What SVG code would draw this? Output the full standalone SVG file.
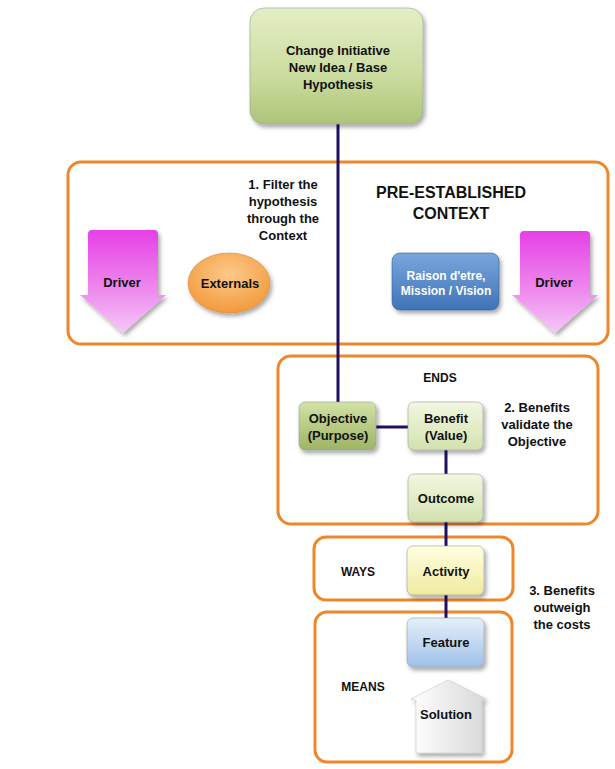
<svg xmlns="http://www.w3.org/2000/svg" width="615" height="769" viewBox="0 0 615 769">
<defs>
<linearGradient id="gGreen" x1="0" y1="0" x2="0" y2="1"><stop offset="0" stop-color="#e4eec6"/><stop offset="0.6" stop-color="#cadb9e"/><stop offset="1" stop-color="#adc478"/></linearGradient>
<linearGradient id="gGreenDark" x1="0" y1="0" x2="0" y2="1"><stop offset="0" stop-color="#d2e2a6"/><stop offset="1" stop-color="#9db565"/></linearGradient>
<linearGradient id="gGreenLight" x1="0" y1="0" x2="0" y2="1"><stop offset="0" stop-color="#f2f7e2"/><stop offset="1" stop-color="#d3e2ae"/></linearGradient>
<linearGradient id="gYellow" x1="0" y1="0" x2="0" y2="1"><stop offset="0" stop-color="#ffffe0"/><stop offset="1" stop-color="#f0eaa0"/></linearGradient>
<linearGradient id="gBlueLight" x1="0" y1="0" x2="0" y2="1"><stop offset="0" stop-color="#e6f0fb"/><stop offset="1" stop-color="#9ec0e8"/></linearGradient>
<linearGradient id="gBlue" x1="0" y1="0" x2="0" y2="1"><stop offset="0" stop-color="#79a7dd"/><stop offset="1" stop-color="#3f73b8"/></linearGradient>
<radialGradient id="gOrange" cx="0.5" cy="0.35" r="0.65"><stop offset="0" stop-color="#fcc98a"/><stop offset="1" stop-color="#f29a3c"/></radialGradient>
<linearGradient id="gPink" x1="0" y1="0" x2="0" y2="1"><stop offset="0" stop-color="#e640e6"/><stop offset="0.6" stop-color="#ee8cee"/><stop offset="1" stop-color="#f6c8f6"/></linearGradient>
<linearGradient id="gWhite" x1="0" y1="0" x2="1" y2="0"><stop offset="0" stop-color="#ffffff"/><stop offset="1" stop-color="#d8d8d8"/></linearGradient>
<filter id="sh" x="-20%" y="-20%" width="150%" height="150%"><feDropShadow dx="2" dy="3" stdDeviation="2" flood-color="#000" flood-opacity="0.35"/></filter>
</defs>
<style>
.frame{fill:#fff;stroke:#f0862a;stroke-width:3}
.con{stroke:#20105e;stroke-width:3;fill:none}
.t{font-family:"Liberation Sans",Arial,sans-serif;font-weight:bold;font-size:13px;fill:#111;text-anchor:middle}
.node{stroke:#9aa0a0;stroke-width:0.6}
</style>
<rect width="615" height="769" fill="#fff"/>

<g id="frames">
<rect class="frame" x="68" y="162" width="540" height="182" rx="13"/>
<rect class="frame" x="278" y="356" width="320" height="168" rx="13"/>
<rect class="frame" x="314" y="537" width="199" height="63" rx="12"/>
<rect class="frame" x="315" y="612" width="197" height="150" rx="12"/>
</g>

<g id="connectors">
<line class="con" x1="338" y1="124" x2="338" y2="402"/>
<line class="con" x1="376" y1="427" x2="408" y2="427"/>
<line class="con" x1="446" y1="450" x2="446" y2="474"/>
<line class="con" x1="446" y1="522" x2="446" y2="546"/>
<line class="con" x1="446" y1="595" x2="446" y2="618"/>
</g>

<g id="change-initiative">
<rect x="250" y="8" width="173" height="116" rx="14" fill="url(#gGreen)" class="node" filter="url(#sh)"/>
<text class="t" x="338" y="55">Change Initiative</text>
<text class="t" x="338" y="72">New Idea / Base</text>
<text class="t" x="338" y="89">Hypothesis</text>
</g>

<g id="filter-label">
<text class="t" x="283" y="189">1. Filter the</text>
<text class="t" x="283" y="206">hypothesis</text>
<text class="t" x="283" y="223">through the</text>
<text class="t" x="283" y="240">Context</text>
</g>

<g id="context-title">
<text class="t" x="451" y="198" style="font-size:16px">PRE-ESTABLISHED</text>
<text class="t" x="451" y="219" style="font-size:16px">CONTEXT</text>
</g>

<g id="driver-left">
<path d="M88,234 Q88,230 92,230 L154,230 Q158,230 158,234 L158,295 L166,295 L123,333 L80,295 L88,295 Z" fill="url(#gPink)" filter="url(#sh)"/>
<text class="t" x="122" y="287">Driver</text>
</g>

<g id="externals">
<ellipse cx="229" cy="283" rx="41" ry="30" fill="url(#gOrange)" stroke="#d88a3a" stroke-width="0.6" filter="url(#sh)"/>
<text class="t" x="230" y="288">Externals</text>
</g>

<g id="raison">
<rect x="392" y="253" width="107" height="57" rx="8" fill="url(#gBlue)" stroke="#30609e" stroke-width="0.6" filter="url(#sh)"/>
<text class="t" x="446" y="280" style="fill:#fff;font-size:12px">Raison d'etre,</text>
<text class="t" x="446" y="295" style="fill:#fff;font-size:12px">Mission / Vision</text>
</g>

<g id="driver-right">
<path d="M520,235 Q520,231 524,231 L586,231 Q590,231 590,235 L590,295 L598,295 L555,333 L512,295 L520,295 Z" fill="url(#gPink)" filter="url(#sh)"/>
<text class="t" x="554" y="287">Driver</text>
</g>

<g id="ends-label"><text class="t" x="440" y="382" style="font-size:12px">ENDS</text></g>

<g id="objective">
<rect x="299" y="402" width="77" height="48" rx="6" fill="url(#gGreenDark)" class="node" filter="url(#sh)"/>
<text class="t" x="338" y="423">Objective</text>
<text class="t" x="338" y="440">(Purpose)</text>
</g>

<g id="benefit">
<rect x="408" y="402" width="75" height="48" rx="6" fill="url(#gGreenLight)" class="node" filter="url(#sh)"/>
<text class="t" x="446" y="423">Benefit</text>
<text class="t" x="446" y="440">(Value)</text>
</g>

<g id="benefits-label">
<text class="t" x="537" y="412">2. Benefits</text>
<text class="t" x="537" y="429">validate the</text>
<text class="t" x="537" y="446">Objective</text>
</g>

<g id="outcome">
<rect x="408" y="474" width="75" height="48" rx="6" fill="url(#gGreenLight)" class="node" filter="url(#sh)"/>
<text class="t" x="446" y="503">Outcome</text>
</g>

<g id="ways-label"><text class="t" x="358" y="576" style="font-size:12px">WAYS</text></g>

<g id="activity">
<rect x="407" y="546" width="77" height="49" rx="6" fill="url(#gYellow)" class="node" filter="url(#sh)"/>
<text class="t" x="446" y="576">Activity</text>
</g>

<g id="costs-label">
<text class="t" x="562" y="595">3. Benefits</text>
<text class="t" x="562" y="612">outweigh</text>
<text class="t" x="562" y="629">the costs</text>
</g>

<g id="feature">
<rect x="407" y="618" width="77" height="49" rx="6" fill="url(#gBlueLight)" class="node" filter="url(#sh)"/>
<text class="t" x="446" y="647">Feature</text>
</g>

<g id="means-label"><text class="t" x="363" y="691" style="font-size:12px">MEANS</text></g>

<g id="solution">
<path d="M448,680 L486,699 L482,700 L482,753 L416,753 L416,700 L411,699 Z" fill="url(#gWhite)" stroke="#c8c8c8" stroke-width="0.6" filter="url(#sh)"/>
<text class="t" x="446" y="719">Solution</text>
</g>
</svg>
